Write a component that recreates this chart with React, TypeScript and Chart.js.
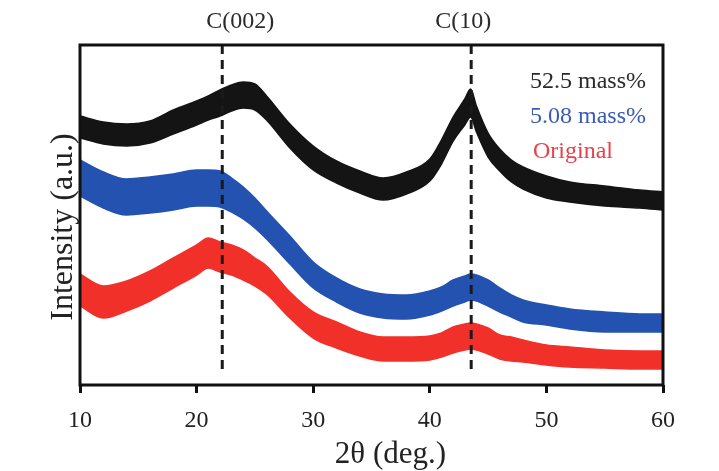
import { useEffect, useRef } from 'react';
import { Chart, registerables } from 'chart.js';

Chart.register(...registerables);

// Diffraction angle 2θ (deg.) at which each pattern is sampled
const twoTheta = [10, 12, 14, 16, 18, 20, 21, 22, 23, 24, 25, 26, 28, 30, 32, 34, 36, 38, 40, 41, 42, 43, 43.5, 44, 45, 46, 47, 48, 50, 52, 55, 58, 60];

// Upper / lower extent of the noisy intensity trace (a.u., offset per sample)
const blackUpper = [269, 263, 261, 264, 275, 284, 289, 295, 300, 303, 301, 289, 261, 239, 224, 214, 207, 213, 226, 245, 268, 286, 296, 279, 252, 236, 225, 218, 209, 203, 199, 195, 193];
const blackLower = [247, 241, 239, 242, 251, 260, 265, 269, 274, 277, 275, 265, 237, 215, 202, 192, 185, 191, 204, 221, 244, 260, 268, 253, 228, 214, 203, 196, 187, 183, 179, 177, 175];

const blueUpper = [225, 213, 206, 208, 211, 215, 215, 214, 207, 198, 187, 174, 149, 123, 107, 96, 91, 90, 94, 98, 105, 109, 111, 110, 105, 97, 90, 85, 80, 76, 73, 71, 71];
const blueLower = [189, 177, 170, 172, 175, 179, 179, 178, 173, 166, 157, 146, 121, 97, 83, 72, 67, 66, 70, 74, 79, 83, 85, 84, 79, 73, 68, 63, 60, 56, 53, 53, 53];

const redUpper = [111, 99, 104, 114, 127, 140, 147, 143, 140, 135, 127, 119, 93, 73, 63, 53, 48, 48, 49, 52, 58, 61, 62, 61, 57, 50, 48, 45, 40, 38, 35, 34, 34];
const redLower = [79, 67, 74, 84, 97, 110, 117, 113, 110, 105, 99, 91, 67, 47, 37, 29, 24, 24, 25, 28, 32, 35, 36, 35, 31, 26, 24, 23, 20, 18, 17, 16, 16];

const seriesNames = ['52.5 mass%', '5.08 mass%', 'Original'];
const seriesColors = ['#141414', '#2352b0', '#f2302a'];
const legendColors = ['#2a2a2a', '#3a5bb5', '#e8404a'];

// Reflection markers
const peakNames = ['C(002)', 'C(10)'];
const peakAngles = [22.2, 43.55];
const peakLabelShift = [18, -8];

const xTicks = [10, 20, 30, 40, 50, 60];

const FONT = '"Liberation Serif", "Times New Roman", serif';

const pts = (vals: number[]) => vals.map((v, i) => ({ x: twoTheta[i], y: v }));

const band = (name: string, upper: number[], lower: number[], color: string) => [
  {
    label: name,
    data: pts(upper),
    borderColor: color,
    backgroundColor: color,
    borderWidth: 1.5,
    pointRadius: 0,
    cubicInterpolationMode: 'monotone',
    fill: '+1',
  },
  {
    label: '',
    data: pts(lower),
    borderColor: color,
    backgroundColor: color,
    borderWidth: 1.5,
    pointRadius: 0,
    cubicInterpolationMode: 'monotone',
    fill: false,
  },
];

const decorations = {
  id: 'xrdDecorations',
  afterDatasetsDraw(chart: any) {
    const { ctx, chartArea, scales } = chart;
    const xs = scales.x;
    const ys = scales.y;
    ctx.save();
    // dashed reflection lines
    ctx.strokeStyle = '#1a1a1a';
    ctx.lineWidth = 3;
    ctx.setLineDash([9, 6]);
    peakAngles.forEach((a) => {
      const px = xs.getPixelForValue(a);
      ctx.beginPath();
      ctx.moveTo(px, chartArea.top);
      ctx.lineTo(px, ys.getPixelForValue(12));
      ctx.stroke();
    });
    ctx.setLineDash([]);
    // frame
    ctx.strokeStyle = '#111';
    ctx.lineWidth = 3;
    ctx.strokeRect(chartArea.left, chartArea.top, chartArea.right - chartArea.left, chartArea.bottom - chartArea.top);
    ctx.restore();
  },
  afterDraw(chart: any) {
    const { ctx, chartArea, scales } = chart;
    const xs = scales.x;
    ctx.save();
    ctx.textBaseline = 'middle';
    // reflection names above the frame
    ctx.font = `24px ${FONT}`;
    ctx.fillStyle = '#2a2a2a';
    ctx.textAlign = 'center';
    peakNames.forEach((n, i) => {
      ctx.fillText(n, xs.getPixelForValue(peakAngles[i]) + peakLabelShift[i], chartArea.top - 23);
    });
    // legend
    ctx.textAlign = 'left';
    seriesNames.forEach((n, i) => {
      ctx.fillStyle = legendColors[i];
      ctx.fillText(n, chartArea.left + 450 + (i === 2 ? 3 : 0), chartArea.top + 37 + i * 35);
    });
    // axis titles
    ctx.fillStyle = '#222';
    ctx.font = `31px ${FONT}`;
    ctx.textAlign = 'center';
    ctx.fillText('2θ (deg.)', (chartArea.left + chartArea.right) / 2 + 19, chartArea.bottom + 70);
    ctx.font = `32px ${FONT}`;
    ctx.translate(chartArea.left - 16, (chartArea.top + chartArea.bottom) / 2 + 12);
    ctx.rotate(-Math.PI / 2);
    ctx.fillText('Intensity (a.u.)', 0, 0);
    ctx.restore();
  },
};

export default function App() {
  const ref = useRef<HTMLCanvasElement>(null);

  useEffect(() => {
    document.body.style.margin = '0';
    const chart = new Chart(ref.current as HTMLCanvasElement, {
      type: 'line',
      data: {
        datasets: [
          ...band(seriesNames[0], blackUpper, blackLower, seriesColors[0]),
          ...band(seriesNames[1], blueUpper, blueLower, seriesColors[1]),
          ...band(seriesNames[2], redUpper, redLower, seriesColors[2]),
        ] as any,
      },
      options: {
        animation: false,
        responsive: false,
        devicePixelRatio: 1,
        layout: { padding: { top: 45, right: 56, left: 0, bottom: 0 } },
        plugins: { legend: { display: false }, tooltip: { enabled: false } },
        scales: {
          x: {
            type: 'linear',
            min: 10,
            max: 60,
            afterBuildTicks: (s: any) => {
              s.ticks = xTicks.map((v) => ({ value: v }));
            },
            afterFit: (s: any) => {
              s.height = 86;
            },
            ticks: { font: { family: FONT, size: 24 }, color: '#222', padding: 13, maxRotation: 0 },
            grid: { drawOnChartArea: false, drawTicks: true, tickLength: 8, lineWidth: 3, color: '#111' },
            border: { display: false },
          },
          y: {
            min: 0,
            max: 340,
            afterFit: (s: any) => {
              s.width = 80;
            },
            ticks: { display: false },
            grid: { display: false },
            border: { display: false },
          },
        },
      },
      plugins: [decorations],
    });
    return () => chart.destroy();
  }, []);

  return (
    <div style={{ position: 'absolute', left: 0, top: 0, width: 719, height: 471, background: '#fff' }}>
      <canvas ref={ref} width={719} height={471} style={{ width: 719, height: 471 }} />
    </div>
  );
}
